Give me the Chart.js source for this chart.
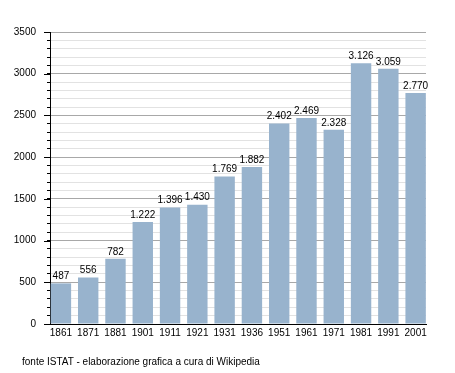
<!DOCTYPE html>
<html>
<head>
<meta charset="utf-8">
<script src="https://cdn.jsdelivr.net/npm/chart.js@4/dist/chart.umd.min.js"></script>
<style>
html,body{margin:0;padding:0;background:#fff;}
#wrap{position:relative;width:455px;height:373px;}
#c{position:absolute;left:0;top:0;}
#foot{position:absolute;left:22px;top:356px;font:10px "Liberation Sans",Arial,sans-serif;color:#000;white-space:nowrap;}
</style>
</head>
<body>
<div id="wrap">
<canvas id="c" width="455" height="373"></canvas>
<div id="foot">fonte ISTAT - elaborazione grafica a cura di Wikipedia</div>
</div>
<script>
const years = ['1861','1871','1881','1901','1911','1921','1931','1936','1951','1961','1971','1981','1991','2001'];
const population = [487, 556, 782, 1222, 1396, 1430, 1769, 1882, 2402, 2469, 2328, 3126, 3059, 2770];
const yMax = 3500;
const yStep = 100;
const yMajor = 500;

const FONT = '"Liberation Sans", Arial, sans-serif';

function fmt(v){
  return String(v).replace(/\B(?=(\d{3})+(?!\d))/g, '.');
}

const labelPlugin = {
  id: 'barLabels',
  afterDatasetsDraw(chart){
    const ctx = chart.ctx;
    const meta = chart.getDatasetMeta(0);
    ctx.save();
    ctx.font = '10px ' + FONT;
    ctx.fillStyle = '#000';
    ctx.textAlign = 'center';
    ctx.textBaseline = 'bottom';
    meta.data.forEach((el, i) => {
      ctx.fillText(fmt(population[i]), el.x, el.y - 2);
    });
    ctx.restore();
  },
  afterDraw(chart){
    const y = chart.scales.y;
    const ctx = chart.ctx;
    ctx.save();
    ctx.strokeStyle = '#000';
    ctx.lineWidth = 1;
    for (let v = 0; v <= yMax; v += yMajor){
      const py = Math.round(y.getPixelForValue(v)) + 0.5;
      ctx.beginPath();
      ctx.moveTo(y.right - 6, py);
      ctx.lineTo(y.right, py);
      ctx.stroke();
    }
    ctx.restore();
  }
};

new Chart(document.getElementById('c'), {
  type: 'bar',
  data: {
    datasets: [{
      data: population.map((v, i) => ({x: i, y: v})),
      backgroundColor: '#98b3cd',
      borderWidth: 0,
      barPercentage: 0.748,
      categoryPercentage: 1
    }]
  },
  options: {
    responsive: false,
    animation: false,
    events: [],
    layout: { padding: { left: 0, right: 29, top: 32, bottom: 17 } },
    plugins: { legend: { display: false }, tooltip: { enabled: false } },
    scales: {
      x: {
        type: 'linear',
        offset: false,
        min: -0.4,
        max: 13.38,
        grid: { display: false, drawTicks: false, tickLength: 0 },
        border: { display: true, color: '#000', width: 1 },
        ticks: {
          stepSize: 1,
          includeBounds: false,
          autoSkip: false,
          maxRotation: 0,
          padding: 3,
          color: '#000',
          font: { family: FONT, size: 10 },
          callback: v => Number.isInteger(v) ? years[v] : ''
        },
        afterFit: s => { s.height = 32; }
      },
      y: {
        min: 0,
        max: yMax,
        grid: {
          color: c => (c.tick && c.tick.value % yMajor === 0) ? '#a8a8a8' : '#e2e2e2',
          tickColor: '#000',
          tickLength: 3,
          lineWidth: 1
        },
        border: { display: true, color: '#000', width: 1 },
        ticks: {
          stepSize: yStep,
          autoSkip: false,
          padding: 11,
          color: '#000',
          font: { family: FONT, size: 10 },
          callback: v => (v % yMajor === 0) ? String(v) : ''
        },
        afterFit: s => { s.width = 50; }
      }
    }
  },
  plugins: [labelPlugin]
});
</script>
</body>
</html>
